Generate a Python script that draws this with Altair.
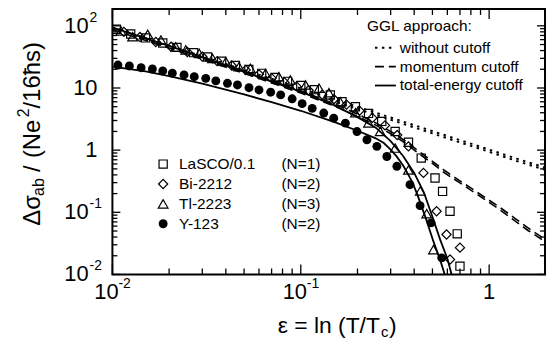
import altair as alt
import pandas as pd

# ---------------- data ----------------
# LaSCO/0.1 (N=1) - open squares
eps_la = [0.0105, 0.0125, 0.015, 0.0185, 0.022, 0.027, 0.032, 0.038, 0.045, 0.053, 0.062,
          0.073, 0.085, 0.1, 0.118, 0.1435, 0.1655, 0.195, 0.229, 0.269, 0.317, 0.373,
          0.436, 0.516, 0.566, 0.62, 0.677, 0.70]
sig_la = [88, 74, 64, 53, 45, 37, 31.5, 27, 23, 19.8, 17.2, 14.8, 12.8, 11.0, 9.4, 7.7,
          6.0, 5.0, 3.9, 2.9, 2.0, 1.34, 0.745, 0.356, 0.217, 0.104, 0.045, 0.0136]

# Bi-2212 (N=2) - open diamonds
eps_bi = [0.0115, 0.014, 0.017, 0.0205, 0.025, 0.03, 0.036, 0.043, 0.051, 0.06, 0.07, 0.082,
          0.095, 0.11, 0.13, 0.15, 0.175, 0.205, 0.24, 0.28, 0.325, 0.373, 0.448, 0.526,
          0.594, 0.62, 0.70]
sig_bi = [80, 66, 55, 46, 38, 32, 27, 23, 19.5, 16.6, 14.4, 12.3, 10.6, 9.2, 7.8, 6.6, 5.4,
          4.3, 3.3, 2.5, 1.75, 1.15, 0.43, 0.104, 0.044, 0.0174, 0.027]

# Tl-2223 (N=3) - open triangles
eps_tl = [0.0111, 0.0128, 0.0154, 0.0181, 0.0217, 0.0245, 0.0289, 0.034, 0.040, 0.047,
          0.054, 0.065, 0.0765, 0.088, 0.106, 0.125, 0.141, 0.162, 0.195, 0.229, 0.264,
          0.317, 0.373, 0.431, 0.466, 0.506]
sig_tl = [83, 67, 73, 59, 46, 41, 36, 30, 26.5, 22, 20.7, 17.2, 15.2, 13.5, 11.2, 9.9, 8.4,
          6.0, 4.0, 2.75, 2.0, 1.08, 0.48, 0.22, 0.095, 0.025]

# Y-123 (N=2) - filled circles
eps_y = [0.0107, 0.0123, 0.0142, 0.0163, 0.0185, 0.0208, 0.024, 0.0272, 0.0313, 0.0354,
         0.0408, 0.0461, 0.0531, 0.060, 0.0692, 0.0782, 0.090, 0.1017, 0.115, 0.1324,
         0.1496, 0.1725, 0.1988, 0.2245, 0.2535, 0.2864, 0.3237, 0.380, 0.430, 0.492, 0.560]
sig_y = [23.4, 22.6, 21.2, 20.2, 18.8, 17.3, 16.2, 15.2, 14.3, 13.0, 11.9, 11.2, 10.1, 9.3,
         8.55, 7.74, 6.7, 5.6, 4.7, 3.95, 3.27, 2.72, 1.99, 1.47, 1.15, 0.79, 0.55, 0.278,
         0.128, 0.0675, 0.0185]

# GGL curves, upper pair (without cutoff, dotted)
eps_a_none = [0.01, 0.02, 0.05, 0.1, 0.2, 0.3, 0.5, 0.7, 1.0, 1.4, 2.0]
sig_a_none = [94, 48, 19.5, 9.9, 5.0, 3.35, 2.02, 1.45, 1.02, 0.73, 0.52]
eps_b_none = [0.01, 0.02, 0.05, 0.1, 0.2, 0.3, 0.5, 0.7, 1.0, 1.4, 2.0]
sig_b_none = [87, 44.5, 18, 9.1, 4.6, 3.08, 1.86, 1.33, 0.94, 0.67, 0.478]
# momentum cutoff (dashed)
eps_a_mom = [0.01, 0.02, 0.05, 0.1, 0.15, 0.2, 0.25, 0.3, 0.36, 0.42, 0.5, 0.58, 0.69,
             0.81, 0.97, 1.14, 1.37, 1.61, 2.0]
sig_a_mom = [94, 47.5, 18.6, 9.0, 5.6, 3.8, 2.75, 2.0, 1.40, 0.98, 0.66, 0.47, 0.33, 0.24,
             0.166, 0.12, 0.08, 0.056, 0.036]
eps_b_mom = [0.01, 0.02, 0.05, 0.1, 0.15, 0.2, 0.25, 0.3, 0.36, 0.42, 0.5, 0.58, 0.69,
             0.81, 0.97, 1.14, 1.37, 1.61, 2.0]
sig_b_mom = [87, 44, 17.2, 8.3, 5.15, 3.5, 2.53, 1.84, 1.29, 0.9, 0.61, 0.43, 0.305, 0.221,
             0.153, 0.11, 0.073, 0.051, 0.033]
# total-energy cutoff (solid): upper compounds and Y-123
eps_u_tot = [0.01, 0.015, 0.02, 0.03, 0.05, 0.07, 0.1, 0.15, 0.2, 0.25, 0.3, 0.35, 0.4,
             0.45, 0.5, 0.55, 0.6, 0.632]
sig_u_tot = [94, 63, 47.5, 31.3, 18.3, 12.7, 8.7, 5.3, 3.4, 2.3, 1.4, 0.8, 0.43, 0.21,
             0.085, 0.036, 0.018, 0.01]
eps_y_tot = [0.01, 0.015, 0.02, 0.03, 0.05, 0.07, 0.1, 0.15, 0.2, 0.25, 0.276, 0.3, 0.322,
             0.35, 0.368, 0.39, 0.414, 0.46, 0.506, 0.55, 0.581]
sig_y_tot = [22, 18.5, 15.5, 11.8, 7.9, 5.9, 4.3, 2.85, 2.05, 1.55, 1.3, 1.02, 0.8, 0.56,
             0.43, 0.31, 0.2, 0.082, 0.034, 0.017, 0.01]

# axis ticks and labels
x_major = [0.01, 0.1, 1]
x_minor = [0.02, 0.03, 0.04, 0.05, 0.06, 0.07, 0.08, 0.09,
           0.2, 0.3, 0.4, 0.5, 0.6, 0.7, 0.8, 0.9]
y_major = [0.01, 0.1, 1, 10, 100]
y_minor = [0.02, 0.03, 0.04, 0.05, 0.06, 0.07, 0.08, 0.09,
           0.2, 0.3, 0.4, 0.5, 0.6, 0.7, 0.8, 0.9,
           2, 3, 4, 5, 6, 7, 8, 9,
           20, 30, 40, 50, 60, 70, 80, 90]
x_exp_vals = [0.01, 0.1]
x_exp_text = ["-2", "-1"]
x_plain_vals = [1]
x_plain_text = ["1"]
y_exp_vals = [0.01, 0.1, 100]
y_exp_text = ["-2", "-1", "2"]
y_plain_vals = [1, 10]
y_plain_text = ["1", "10"]

legend_names = ["LaSCO/0.1", "Bi-2212", "Tl-2223", "Y-123"]
legend_ns = ["(N=1)", "(N=2)", "(N=3)", "(N=2)"]
ggl_title = "GGL approach:"
ggl_labels = ["without cutoff", "momentum cutoff", "total-energy cutoff"]

# ---------------- chart ----------------
W, H = 435, 267
xs = alt.Scale(type="log", domain=[0.01, 1.98], nice=False)
ys = alt.Scale(type="log", domain=[0.01, 187], nice=False)
FONT = "Liberation Sans"
one = pd.DataFrame({"a": [0]})


def X(f="v"):
    return alt.X(f + ":Q", scale=xs, axis=None)


def Y(f="v"):
    return alt.Y(f + ":Q", scale=ys, axis=None)


def curve(eps, sig, dash, width):
    df = pd.DataFrame({"eps": eps, "sig": sig})
    kw = dict(color="black", strokeWidth=width, clip=True)
    if dash:
        kw["strokeDash"] = dash
        kw["strokeCap"] = "butt"
    return alt.Chart(df).mark_line(**kw).encode(x=X("eps"), y=Y("sig"))


def pts(eps, sig, shape, filled, size):
    df = pd.DataFrame({"eps": eps, "sig": sig})
    kw = dict(shape=shape, filled=filled, size=size, color="black", opacity=1, clip=True)
    if not filled:
        kw["strokeWidth"] = 1.2
    return alt.Chart(df).mark_point(**kw).encode(x=X("eps"), y=Y("sig"))


DOT = [2.5, 4.5]
DASH = [9, 5]
layers = []

# ticks (inward, all four sides)
dfxM = pd.DataFrame({"v": x_major})
dfxm = pd.DataFrame({"v": x_minor})
dfyM = pd.DataFrame({"v": y_major})
dfym = pd.DataFrame({"v": y_minor})
for df, ln in [(dfxM, 10), (dfxm, 6)]:
    layers.append(alt.Chart(df).mark_rule(color="black", strokeWidth=1.3).encode(
        x=X(), y=alt.value(H), y2=alt.value(H - ln)))
    layers.append(alt.Chart(df).mark_rule(color="black", strokeWidth=1.3).encode(
        x=X(), y=alt.value(0), y2=alt.value(ln)))
for df, ln in [(dfyM, 8), (dfym, 5)]:
    layers.append(alt.Chart(df).mark_rule(color="black", strokeWidth=1.3).encode(
        y=Y(), x=alt.value(0), x2=alt.value(ln)))
    layers.append(alt.Chart(df).mark_rule(color="black", strokeWidth=1.3).encode(
        y=Y(), x=alt.value(W), x2=alt.value(W - ln)))

# theory curves
layers += [
    curve(eps_a_none, sig_a_none, DOT, 2),
    curve(eps_b_none, sig_b_none, DOT, 2),
    curve(eps_a_mom, sig_a_mom, DASH, 1.6),
    curve(eps_b_mom, sig_b_mom, DASH, 1.6),
    curve(eps_u_tot, sig_u_tot, None, 1.8),
    curve(eps_y_tot, sig_y_tot, None, 1.8),
]

# data points
SQ, DI, TR, CI = 68, 85, 95, 80
layers += [
    pts(eps_la, sig_la, "square", False, SQ),
    pts(eps_bi, sig_bi, "diamond", False, DI),
    pts(eps_tl, sig_tl, "triangle-up", False, TR),
    pts(eps_y, sig_y, "circle", True, CI),
]

# tick labels
TL = 22
dfxe = pd.DataFrame({"v": x_exp_vals, "e": x_exp_text})
dfxp = pd.DataFrame({"v": x_plain_vals, "t": x_plain_text})
dfye = pd.DataFrame({"v": y_exp_vals, "e": y_exp_text})
dfyp = pd.DataFrame({"v": y_plain_vals, "t": y_plain_text})
layers += [
    alt.Chart(dfxe).mark_text(text="10", font=FONT, fontSize=TL, align="center",
                              baseline="middle", dx=-6).encode(x=X(), y=alt.value(H + 18)),
    alt.Chart(dfxe).mark_text(font=FONT, fontSize=14, align="left", baseline="middle",
                              dx=6, dy=-8).encode(x=X(), y=alt.value(H + 18), text="e:N"),
    alt.Chart(dfxp).mark_text(font=FONT, fontSize=TL, align="center",
                              baseline="middle").encode(x=X(), y=alt.value(H + 18), text="t:N"),
    alt.Chart(dfye).mark_text(text="10", font=FONT, fontSize=TL, align="right",
                              baseline="middle").encode(y=Y(), x=alt.value(-24)),
    alt.Chart(dfye).mark_text(font=FONT, fontSize=14, align="left", baseline="middle",
                              dy=-8).encode(y=Y(), x=alt.value(-23), text="e:N"),
    alt.Chart(dfyp).mark_text(font=FONT, fontSize=TL, align="right",
                              baseline="middle").encode(y=Y(), x=alt.value(-15), text="t:N"),
]


def txt(s, x, y, size, align="left", angle=0, baseline="middle"):
    kw = dict(text=s, font=FONT, fontSize=size, align=align, baseline=baseline, color="black")
    if angle:
        kw["angle"] = angle
    return alt.Chart(one).mark_text(**kw).encode(x=alt.value(x), y=alt.value(y))


# x axis title: eps = ln (T/Tc)
XT_Y = H + 52
layers += [
    txt("\u03b5 = ln (T/T", 269, XT_Y, 23, align="right"),
    txt("c", 270, XT_Y + 6, 15),
    txt(")", 278, XT_Y, 23),
]

# y axis title (rotated): Δσ_ab / (Ne^2/16ħs)
YT_X = -80
layers += [
    txt("\u0394\u03c3", YT_X, 218, 24, angle=270),
    txt("ab", YT_X + 6, 188, 16, angle=270),
    txt("/", YT_X, 164, 24, angle=270),
    txt("(Ne", YT_X, 150, 24, angle=270),
    txt("2", YT_X - 9, 109, 16, angle=270),
    txt("/16\u0127s)", YT_X, 100, 24, angle=270),
]

# GGL legend (top right)
LF = 15.5
layers.append(txt(ggl_title, 256, 17, LF))
for i, (lab, dash, w) in enumerate(zip(ggl_labels, [DOT, DASH, None], [2, 1.6, 1.8])):
    yy = 39 + 19 * i
    kw = dict(color="black", strokeWidth=w)
    if dash:
        kw["strokeDash"] = dash
        kw["strokeCap"] = "butt"
    layers.append(alt.Chart(one).mark_rule(**kw).encode(
        x=alt.value(264), x2=alt.value(285), y=alt.value(yy)))
    layers.append(txt(lab, 289, yy, LF))

# sample legend (bottom left)
shapes = [("square", False, SQ), ("diamond", False, DI), ("triangle-up", False, TR),
          ("circle", True, CI)]
for i, (nm, nn, (shp, fl, sz)) in enumerate(zip(legend_names, legend_ns, shapes)):
    yy = 156 + 20 * i
    kw = dict(shape=shp, filled=fl, size=sz, color="black", opacity=1)
    if not fl:
        kw["strokeWidth"] = 1.2
    layers.append(alt.Chart(one).mark_point(**kw).encode(x=alt.value(51), y=alt.value(yy)))
    layers.append(txt(nm, 67, yy, LF))
    layers.append(txt(nn, 170, yy, LF))

chart = alt.layer(*layers).properties(
    width=W, height=H,
    autosize=alt.AutoSizeParams(type="none"),
    padding={"left": 105, "top": 0, "right": 3, "bottom": 72},
    background="white",
).configure_view(stroke="black", strokeWidth=2)

chart.save("out.html", embed_options={"renderer": "svg", "actions": False})
